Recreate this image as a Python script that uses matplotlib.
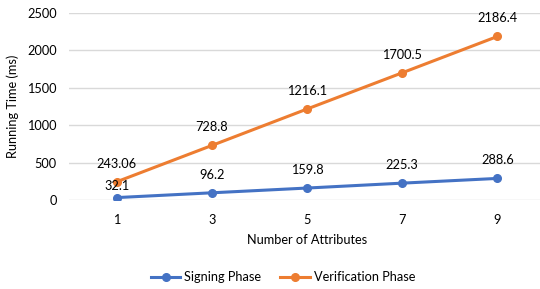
import matplotlib.pyplot as plt

attributes = ['1', '3', '5', '7', '9']
signing = [32.1, 96.2, 159.8, 225.3, 288.6]
verification = [243.06, 728.8, 1216.1, 1700.5, 2186.4]
signing_labels = ['32.1', '96.2', '159.8', '225.3', '288.6']
verification_labels = ['243.06', '728.8', '1216.1', '1700.5', '2186.4']

plt.rcParams['font.family'] = ['Lato', 'DejaVu Sans']
plt.rcParams['font.size'] = 9.2

fig = plt.figure(figsize=(5.4, 2.89), dpi=100)
# plot area in Excel runs past the right edge of the picture
ax = fig.add_axes([69 / 540, 1 - 200 / 289, 476 / 540, 187 / 289])

x = list(range(len(attributes)))
blue = '#4472C4'
orange = '#ED7D31'
ax.plot(x, signing, color=blue, lw=2.2, marker='o', ms=5.5, label='Signing Phase', zorder=3)
ax.plot(x, verification, color=orange, lw=2.2, marker='o', ms=5.5, label='Verification Phase', zorder=3)

for i, (v, t) in enumerate(zip(signing, signing_labels)):
    off = 8 if i == 0 else 13
    ax.annotate(t, (i, v), xytext=(0, off), textcoords='offset points',
                ha='center', va='center', color='#000000')
for i, (v, t) in enumerate(zip(verification, verification_labels)):
    ax.annotate(t, (i, v), xytext=(0, 13), textcoords='offset points',
                ha='center', va='center', color='#000000')

ax.set_xlim(-0.5, len(attributes) - 0.5)
ax.set_ylim(0, 2500)
ax.set_yticks(range(0, 2501, 500))
ax.set_xticks(x)
ax.set_xticklabels(attributes)
ax.grid(axis='y', color='#D9D9D9', lw=1)
ax.set_axisbelow(True)
for s in ax.spines.values():
    s.set_visible(False)
ax.tick_params(length=0, pad=10)
ax.tick_params(axis='y', pad=9)
ax.set_xlabel('Number of Attributes', labelpad=6)
ax.set_ylabel('Running Time (ms)')
ax.yaxis.set_label_coords(-50 / 476, 0.5)

fig.legend(loc='center', bbox_to_anchor=(283 / 540, 1 - 277 / 289), ncol=2,
           frameon=False, handlelength=2.3, columnspacing=1.5, handletextpad=0.3)

fig.savefig('out.png', dpi=100)
